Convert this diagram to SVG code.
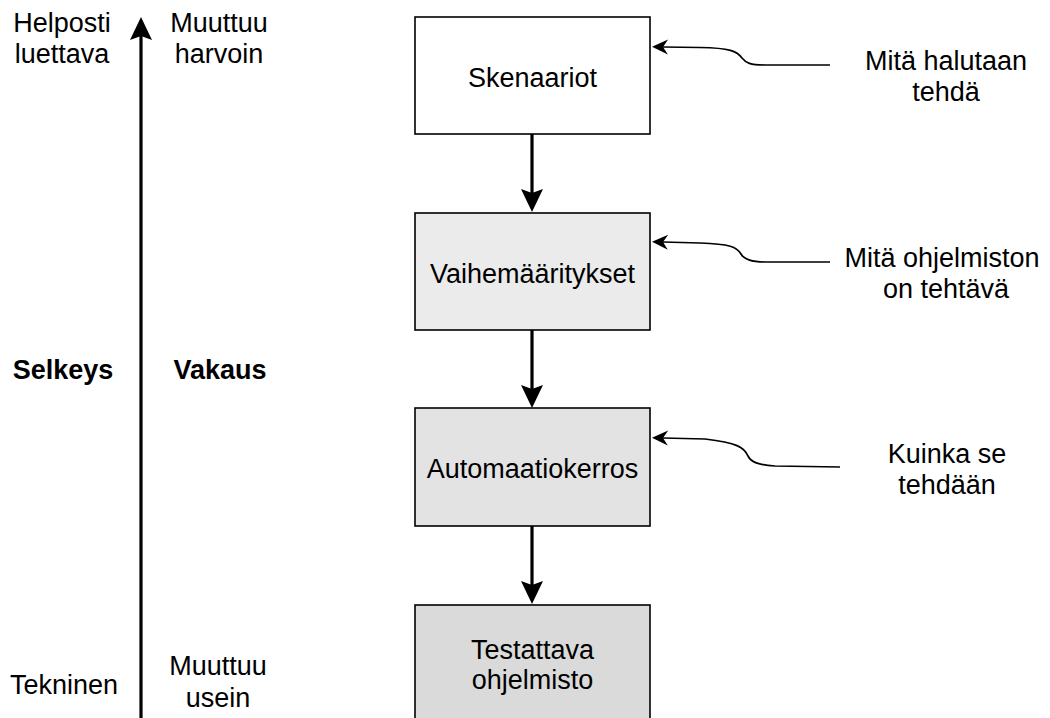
<svg xmlns="http://www.w3.org/2000/svg" width="1050" height="718" viewBox="0 0 1050 718">
<style>
text{font-family:"Liberation Sans",Arial,Helvetica,sans-serif;font-size:27px;fill:#000;text-anchor:middle}
.b{font-weight:bold}
.box{stroke:#000;stroke-width:1.6}
.thick{fill:none;stroke:#000;stroke-width:3.2}
.thin{fill:none;stroke:#000;stroke-width:1.7}
</style>
<defs>
<marker id="big" markerUnits="userSpaceOnUse" markerWidth="30" markerHeight="30" refX="0" refY="0" orient="auto" overflow="visible">
<path d="M-4,-11 L19,0 L-4,11 L0,0 Z" fill="#000"/>
</marker>
<marker id="small" markerUnits="userSpaceOnUse" markerWidth="20" markerHeight="20" refX="0" refY="0" orient="auto" overflow="visible">
<path d="M-5,-7.5 L11,0 L-5,7.5 L0,0 Z" fill="#000"/>
</marker>
</defs>
<rect width="1050" height="718" fill="#fff"/>

<g id="connectors">
<path class="thick" d="M141,720 L141,36" marker-end="url(#big)"/>
<path class="thick" d="M532,134 L532,193" marker-end="url(#big)"/>
<path class="thick" d="M532,330 L532,389" marker-end="url(#big)"/>
<path class="thick" d="M532,526 L532,585" marker-end="url(#big)"/>
<path class="thin" d="M830,65 L765,65 C750,65 746,63 742,58 C737,51 730,48 700,47.5 L663,47" marker-end="url(#small)"/>
<path class="thin" d="M830,262 L765,262 C750,262 744,259 741,254 C737,247 730,244 700,243 L663,242" marker-end="url(#small)"/>
<path class="thin" d="M840,467 L775,466 C758,465 751,462 748,456 C744,447 737,443 705,439 L663,438" marker-end="url(#small)"/>
</g>

<g id="skenaariot">
<rect class="box" x="415" y="17" width="235" height="117" fill="#ffffff"/>
<text x="532.5" y="87">Skenaariot</text>
</g>
<g id="vaihemaaritykset">
<rect class="box" x="415" y="213" width="235" height="117" fill="#ebebeb"/>
<text x="532.5" y="283">Vaihemääritykset</text>
</g>
<g id="automaatiokerros">
<rect class="box" x="415" y="408" width="235" height="118" fill="#e3e3e3"/>
<text x="532.5" y="478">Automaatiokerros</text>
</g>
<g id="testattava">
<rect class="box" x="415" y="605" width="235" height="130" fill="#dadada"/>
<text x="532.5" y="659">Testattava</text>
<text x="532.5" y="689">ohjelmisto</text>
</g>

<g id="label-halutaan">
<text x="946" y="70">Mitä halutaan</text>
<text x="946" y="101">tehdä</text>
</g>
<g id="label-ohjelmiston">
<text x="942" y="267">Mitä ohjelmiston</text>
<text x="946" y="298">on tehtävä</text>
</g>
<g id="label-kuinka">
<text x="947" y="463">Kuinka se</text>
<text x="947" y="494">tehdään</text>
</g>

<g id="axis-labels">
<text x="62" y="32">Helposti</text>
<text x="62" y="63">luettava</text>
<text x="219" y="32">Muuttuu</text>
<text x="219" y="63">harvoin</text>
<text class="b" x="63" y="379">Selkeys</text>
<text class="b" x="220" y="379">Vakaus</text>
<text x="64" y="694">Tekninen</text>
<text x="218" y="675">Muuttuu</text>
<text x="218" y="707">usein</text>
</g>
</svg>
